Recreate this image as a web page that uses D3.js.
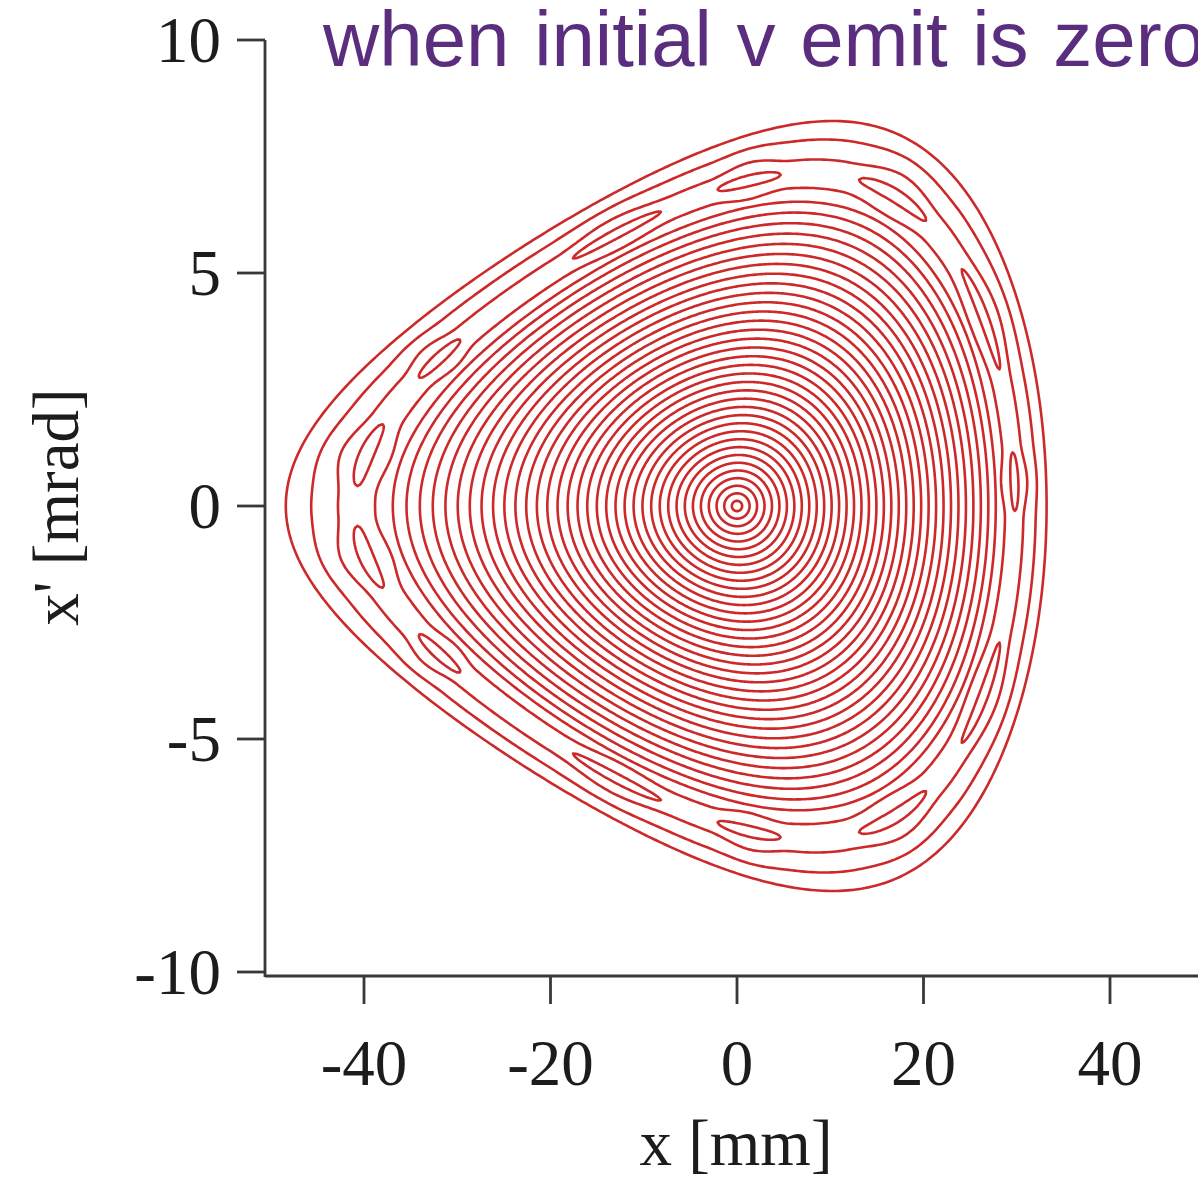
<!DOCTYPE html>
<html>
<head>
<meta charset="utf-8">
<script src="https://cdn.jsdelivr.net/npm/d3@7"></script>
<style>
  html, body { margin: 0; padding: 0; background: #fff; overflow: hidden; }
  svg { display: block; }
</style>
</head>
<body>
<svg id="chart" width="1198" height="1178"></svg>
<script>
// ---- axis content ----
const xTicks = [-40, -20, 0, 20, 40];
const yTicks = [-10, -5, 0, 5, 10];
const xTitle = "x [mm]";
const yTitle = "x' [mrad]";
const caption = "when initial v emit is zero";

// ---- traced orbits: crossing of the x' = 0 line on the x > 0 side [mm] ----
const orbitCrossings = [
  0.55, 1.35, 2.15, 2.95, 3.75, 4.55, 5.35, 6.15, 6.95, 7.75,
  8.55, 9.35, 10.15, 10.95, 11.75, 12.55, 13.35, 14.15, 14.95, 15.75,
  16.55, 17.35, 18.15, 18.95, 19.75, 20.55, 21.35, 22.15, 22.95, 23.75,
  24.55, 25.35, 26.15, 26.95, 27.75, 28.6, 30.9, 32.1, 33.2
];

// orbits next to the resonance chain and how strongly they ripple [mm]
const rippleOrbits = [35, 36, 37];
const rippleAmp = [-0.38, 0.45, 0.16];

// ---- resonance islands: centre angle and half-span [deg], in normalised phase space ----
const islandAngle = [5, 37, 63, 88, 114, 153.5, 172, -37, -63, -88, -114, -153.5, -172];
const islandSpan  = [6, 9.5, 6.5, 5.5, 9.5, 4.5, 5, 9.5, 6.5, 5.5, 9.5, 4.5, 5];
const islandCrossing = 29.8;   // equivalent x' = 0 crossing of the chain [mm]
const islandHalfWidth = 0.42;  // [mm]

// ---- one-turn invariant (normalised coordinates X = x / beta, Y = x') ----
const beta = 5.0;        // mm / mrad
const sext = 0.062;      // cubic (sextupole) strength
const cross = 0.544;     // X*Y^2 weight
const quart = 0.003085;  // Y^4 weight

function invariant(X, Y) {
  return 0.5 * (X * X + Y * Y) + sext * (X * X * X / 3 - cross * X * Y * Y) - quart * Y * Y * Y * Y / 4;
}
function levelOf(crossingMm) {
  return invariant(crossingMm / beta, 0);
}
// radius along direction phi where the invariant reaches level h
function radiusAt(phi, h) {
  const c = Math.cos(phi), s = Math.sin(phi);
  let r0 = 0, r1 = 0, prev = 0;
  const step = 0.05;
  for (;;) {
    r1 = r0 + step;
    const e = invariant(r1 * c, r1 * s);
    if (e >= h) break;
    if (e < prev || r1 > 30) return r0;
    prev = e; r0 = r1;
  }
  for (let i = 0; i < 40; i++) {
    const m = (r0 + r1) / 2;
    if (invariant(m * c, m * s) < h) r0 = m; else r1 = m;
  }
  return (r0 + r1) / 2;
}
function phasePoint(phiDeg, crossingMm) {
  const phi = phiDeg * Math.PI / 180;
  const r = radiusAt(phi, levelOf(crossingMm));
  return [beta * r * Math.cos(phi), r * Math.sin(phi)];
}
function angDist(a, b) {
  const d = ((a - b) % 360 + 540) % 360 - 180;
  return Math.abs(d);
}
// 1 on top of an island, 0 in the gaps between them
function islandProximity(phiDeg) {
  let p = 0;
  islandAngle.forEach((a, k) => {
    const w = islandSpan[k] * 1.35;
    const d = angDist(phiDeg, a);
    if (d < w) p = Math.max(p, Math.pow(Math.cos(Math.PI / 2 * d / w), 2));
  });
  return p;
}

// ---- layout ----
const svg = d3.select("#chart");
const x = d3.scaleLinear().domain([-40, 40]).range([364, 1110]);
const y = d3.scaleLinear().domain([-10, 10]).range([972, 40]);
const axisColor = "#383838";
const orbitColor = "#cc2a2a";
const serif = "'Liberation Serif', 'Times New Roman', serif";

const line = d3.line().x(d => x(d[0])).y(d => y(d[1])).curve(d3.curveLinearClosed);

// ---- orbits ----
const gOrbits = svg.append("g").attr("fill", "none").attr("stroke", orbitColor)
  .attr("stroke-width", 2.6).attr("stroke-linejoin", "round");

orbitCrossings.forEach((c0, i) => {
  const ri = rippleOrbits.indexOf(i);
  const pts = [];
  for (let a = 0; a < 360; a += 0.5) {
    let c = c0;
    if (ri >= 0) c = c0 + rippleAmp[ri] * (islandProximity(a) - 0.4);
    pts.push(phasePoint(a, c));
  }
  gOrbits.append("path").attr("d", line(pts));
});

// ---- islands ----
islandAngle.forEach((a0, k) => {
  const span = islandSpan[k];
  const outer = [], inner = [];
  for (let j = 0; j <= 40; j++) {
    const t = -1 + 2 * j / 40;
    const th = islandHalfWidth * Math.sqrt(Math.max(0, 1 - t * t));
    const a = a0 + t * span;
    outer.push(phasePoint(a, islandCrossing + th));
    inner.push(phasePoint(a, islandCrossing - th));
  }
  gOrbits.append("path").attr("d", line(outer.concat(inner.reverse())));
});

// ---- axes ----
const gx = svg.append("g").attr("transform", "translate(0,976)");
gx.append("line").attr("x1", 265).attr("x2", 1198).attr("y1", 0).attr("y2", 0)
  .attr("stroke", axisColor).attr("stroke-width", 2.8);
gx.selectAll("line.tick").data(xTicks).join("line").attr("class", "tick")
  .attr("x1", d => x(d)).attr("x2", d => x(d)).attr("y1", 0).attr("y2", 28)
  .attr("stroke", axisColor).attr("stroke-width", 2.8);
gx.selectAll("text").data(xTicks).join("text")
  .attr("x", d => x(d)).attr("y", 109).attr("text-anchor", "middle")
  .attr("font-family", serif).attr("font-size", 65).attr("fill", "#1c1c1c")
  .text(d => d);

const gy = svg.append("g");
gy.append("line").attr("x1", 265).attr("x2", 265).attr("y1", y(10)).attr("y2", 977)
  .attr("stroke", axisColor).attr("stroke-width", 2.8);
gy.selectAll("line.tick").data(yTicks).join("line").attr("class", "tick")
  .attr("x1", 237).attr("x2", 265).attr("y1", d => y(d)).attr("y2", d => y(d))
  .attr("stroke", axisColor).attr("stroke-width", 2.8);
gy.selectAll("text").data(yTicks).join("text")
  .attr("x", 221).attr("y", d => y(d) + 22).attr("text-anchor", "end")
  .attr("font-family", serif).attr("font-size", 65).attr("fill", "#1c1c1c")
  .text(d => d);

svg.append("text").attr("x", 736).attr("y", 1165).attr("text-anchor", "middle")
  .attr("font-family", serif).attr("font-size", 65).attr("fill", "#1c1c1c").text(xTitle);
svg.append("text").attr("transform", "translate(78,507) rotate(-90)").attr("text-anchor", "middle")
  .attr("font-family", serif).attr("font-size", 65).attr("fill", "#1c1c1c").text(yTitle);

svg.append("text").attr("x", 323).attr("y", 66)
  .attr("font-family", "'Liberation Sans', Arial, sans-serif").attr("font-size", 78)
  .attr("word-spacing", 3).attr("fill", "#5b2d7e").text(caption);
</script>
</body>
</html>
